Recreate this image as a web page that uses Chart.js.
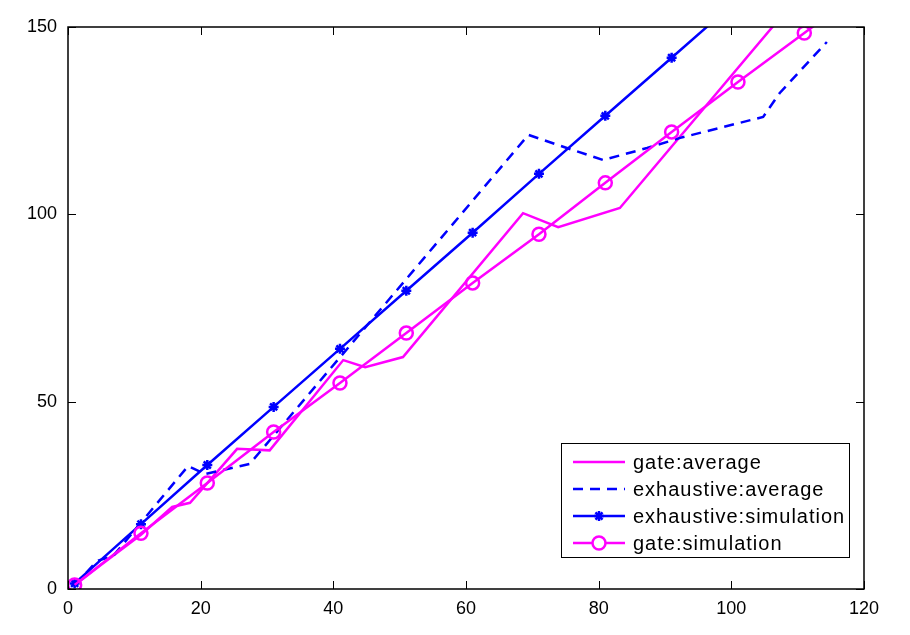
<!DOCTYPE html>
<html>
<head>
<meta charset="utf-8">
<script src="https://cdn.jsdelivr.net/npm/chart.js@4/dist/chart.umd.min.js"></script>
<style>
  body { margin: 0; background: #fff; }
  #wrap { width: 910px; height: 635px; }
</style>
</head>
<body>
<div id="wrap"><canvas id="myChart" width="910" height="635"></canvas></div>
<script>
// x positions of the simulation runs
let simX = [1, 11, 21, 31, 41, 51, 61, 71, 81, 91, 101, 111, 121];
let exhaustiveSim = [1.5, 17.3, 33.1, 48.6, 64.1, 79.6, 95.1, 110.8, 126.3, 141.8, 157.3, 172.8, 188.3];
let gateSim = [1.1, 14.9, 28.3, 41.9, 55.0, 68.3, 81.7, 94.7, 108.4, 122.0, 135.3, 148.4, 161.5];

// averages (irregular x)
let gateAvgX = [1, 5, 11, 15.7, 18.4, 25.5, 30.4, 41.5, 44.8, 50.5, 68.6, 73.9, 83.2, 110];
let gateAvgY = [1, 6.5, 14.5, 21.9, 23.0, 37.4, 37.0, 61.1, 59.2, 61.9, 100.3, 96.6, 101.7, 158];
let exhAvgX = [1, 4.4, 6.8, 18.1, 20.7, 27.4, 69.4, 75.2, 80.7, 87.3, 92.3, 104.8, 107.3, 114.4];
let exhAvgY = [1, 7.5, 8.8, 32.8, 30.7, 33.4, 121.2, 117.7, 114.5, 117.7, 120.4, 126.0, 132.4, 146.0];

let xTicks = [0, 20, 40, 60, 80, 100, 120];
let yTicks = [0, 50, 100, 150];
let legendLabels = ["gate:average", "exhaustive:average", "exhaustive:simulation", "gate:simulation"];

const BLUE = "#0000ff";
const MAGENTA = "#ff00ff";
const FONT = "'Liberation Sans', Arial, sans-serif";

function toPoints(xs, ys) {
  return xs.map((x, i) => ({ x: x, y: ys[i] }));
}

// frame with inward ticks, like matlab axes
const framePlugin = {
  id: "frame",
  afterDatasetsDraw(chart) {
    const ctx = chart.ctx;
    const a = chart.chartArea;
    const xs = chart.scales.x;
    const ys = chart.scales.y;
    ctx.save();
    ctx.strokeStyle = "#000";
    ctx.lineWidth = 1.5;
    ctx.strokeRect(a.left, a.top, a.right - a.left, a.bottom - a.top);
    ctx.lineWidth = 1;
    ctx.beginPath();
    xTicks.forEach((v) => {
      const px = Math.round(xs.getPixelForValue(v)) + 0.5;
      ctx.moveTo(px, a.bottom);
      ctx.lineTo(px, a.bottom - 8);
      ctx.moveTo(px, a.top);
      ctx.lineTo(px, a.top + 8);
    });
    yTicks.forEach((v) => {
      const py = Math.round(ys.getPixelForValue(v)) + 0.5;
      ctx.moveTo(a.left, py);
      ctx.lineTo(a.left + 8, py);
      ctx.moveTo(a.right, py);
      ctx.lineTo(a.right - 8, py);
    });
    ctx.stroke();
    ctx.restore();
  },
};

const legendPlugin = {
  id: "boxLegend",
  afterDraw(chart) {
    const ctx = chart.ctx;
    const styles = [
      { color: MAGENTA, dash: [], marker: null },
      { color: BLUE, dash: [10, 7], marker: null },
      { color: BLUE, dash: [], marker: "star" },
      { color: MAGENTA, dash: [], marker: "circle" },
    ];
    const bx = 561, by = 443, bw = 288, bh = 114;
    ctx.save();
    ctx.fillStyle = "#fff";
    ctx.fillRect(bx, by, bw, bh);
    ctx.strokeStyle = "#000";
    ctx.lineWidth = 1;
    ctx.strokeRect(bx + 0.5, by + 0.5, bw, bh);
    legendLabels.forEach((label, i) => {
      const y = 462 + i * 27;
      const s = styles[i];
      ctx.strokeStyle = s.color;
      ctx.lineWidth = 2.5;
      ctx.setLineDash(s.dash);
      ctx.beginPath();
      ctx.moveTo(573, y);
      ctx.lineTo(625, y);
      ctx.stroke();
      ctx.setLineDash([]);
      if (s.marker) {
        ctx.fillStyle = s.marker === "star" ? BLUE : "#fff";
        ctx.strokeStyle = s.color;
        ctx.lineWidth = 2.5;
        Chart.helpers.drawPoint(ctx, {
          pointStyle: s.marker,
          radius: s.marker === "star" ? 5 : 6.5,
          rotation: 0,
          borderWidth: 2.5,
        }, 599, y);
      }
      ctx.fillStyle = "#000";
      ctx.font = "20px " + FONT;
      ctx.letterSpacing = "1px";
      ctx.textBaseline = "middle";
      ctx.fillText(label, 633, y + 1);
    });
    ctx.restore();
  },
};

function renderChart() {
  const ctx = document.getElementById("myChart");
  new Chart(ctx, {
    type: "scatter",
    data: {
      datasets: [
        {
          label: legendLabels[0],
          data: toPoints(gateAvgX, gateAvgY),
          showLine: true,
          borderColor: MAGENTA,
          borderWidth: 2.5,
          pointRadius: 0,
          order: 3,
        },
        {
          label: legendLabels[1],
          data: toPoints(exhAvgX, exhAvgY),
          showLine: true,
          borderColor: BLUE,
          borderWidth: 2.5,
          borderDash: [10, 7],
          pointRadius: 0,
          order: 2,
        },
        {
          label: legendLabels[2],
          data: toPoints(simX, exhaustiveSim),
          showLine: true,
          borderColor: BLUE,
          borderWidth: 2.5,
          pointStyle: "star",
          pointRadius: 5,
          pointBorderWidth: 2.5,
          pointBorderColor: BLUE,
          pointBackgroundColor: BLUE,
          order: 1,
        },
        {
          label: legendLabels[3],
          data: toPoints(simX, gateSim),
          showLine: true,
          borderColor: MAGENTA,
          borderWidth: 2.5,
          pointStyle: "circle",
          pointRadius: 6.5,
          pointBorderWidth: 2.5,
          pointBorderColor: MAGENTA,
          pointBackgroundColor: "rgba(0,0,0,0)",
          order: 0,
        },
      ],
    },
    options: {
      responsive: false,
      animation: false,
      layout: { padding: { top: 27, right: 46, left: 0, bottom: 0 } },
      plugins: { legend: { display: false }, tooltip: { enabled: false } },
      elements: { line: { tension: 0 } },
      scales: {
        x: {
          type: "linear",
          min: 0,
          max: 120,
          afterFit: (scale) => { scale.height = 46; },
          afterBuildTicks: (scale) => { scale.ticks = xTicks.map((v) => ({ value: v })); },
          grid: { display: false },
          border: { display: false },
          ticks: { color: "#000", padding: 1, font: { family: FONT, size: 18 } },
        },
        y: {
          type: "linear",
          min: 0,
          max: 150,
          afterFit: (scale) => { scale.width = 68; },
          afterBuildTicks: (scale) => { scale.ticks = yTicks.map((v) => ({ value: v })); },
          grid: { display: false },
          border: { display: false },
          ticks: { color: "#000", padding: 3, font: { family: FONT, size: 18 } },
        },
      },
    },
    plugins: [framePlugin, legendPlugin],
  });
}

renderChart();
</script>
</body>
</html>
